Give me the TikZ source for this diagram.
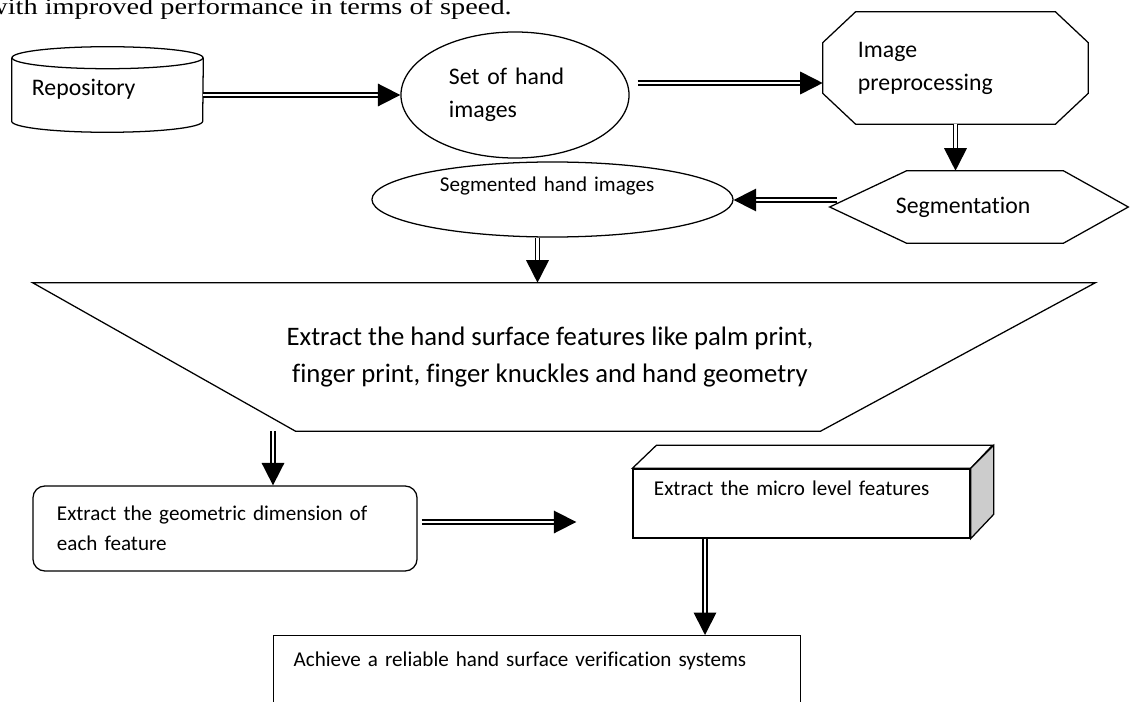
\documentclass[tikz,border=0pt]{standalone}
\usepackage{fontspec}
\setmainfont{Carlito}[Ligatures=NoCommon]
\newfontfamily\serifbody{Liberation Serif}[FakeStretch=1.22]
\usetikzlibrary{shapes.geometric,arrows.meta,calc}

\newcommand{\px}{0.7113pt}

\tikzset{
    box/.style={draw, line width=0.9pt, inner sep=0pt},
    frame/.style={inner sep=0pt},
    outline/.style={line width=0.9pt},
    dbl/.style={double, double distance=1.7pt, line width=1.25pt,
        -{Triangle[length=16pt,width=16pt]}},
    bigtext/.style={font=\fontsize{16.9}{23.5}\selectfont},
    smalltext/.style={font=\fontsize{15}{21.3}\selectfont},
}

\begin{document}
\begin{tikzpicture}[x=0.025cm, y=0.025cm]
    \useasboundingbox (0,0) rectangle (1131,-702);

    % line of the page above the chart
    \node[anchor=base east, inner sep=0pt, font=\serifbody\fontsize{16.5}{20}\selectfont] (intro) at (512,-15) {with improved performance in terms of speed.};

    % Repository (cylinder)
    \node[frame, bigtext, minimum width=191*\px, minimum height=85*\px, text width=151*\px, align=left] (repo) at (107.5,-89.5) {Repository};
    \draw[outline] ([yshift=-11*\px]repo.north west) -- ([yshift=11*\px]repo.south west)
        arc[start angle=180, end angle=360, x radius=95.5, y radius=11] -- ([yshift=-11*\px]repo.north east);
    \draw[outline] ([yshift=-11*\px]repo.north) ellipse [x radius=95.5, y radius=11];

    % top row
    \node[ellipse, box, bigtext, minimum width=228*\px, minimum height=126*\px, text width=132*\px, align=left] (sethand) at (515,-95) {Set of hand\\images};
    \node[frame, bigtext, minimum width=265*\px, minimum height=112*\px, text width=195*\px, align=left] (imgpre) at (955.5,-68) {Image\\preprocessing};
    \draw[outline] ([xshift=33*\px]imgpre.north west) -- ([xshift=-33*\px]imgpre.north east)
        -- ([yshift=-31*\px]imgpre.north east) -- ([yshift=31*\px]imgpre.south east)
        -- ([xshift=-33*\px]imgpre.south east) -- ([xshift=33*\px]imgpre.south west)
        -- ([yshift=31*\px]imgpre.south west) -- ([yshift=-31*\px]imgpre.north west) -- cycle;

    % second row
    \node[frame, bigtext, minimum width=298*\px, minimum height=72*\px, text width=166*\px, align=left] (seg) at (979,-207) {Segmentation};
    \draw[outline] (seg.west) -- ([xshift=77*\px]seg.north west) -- ([xshift=-65*\px]seg.north east)
        -- (seg.east) -- ([xshift=-65*\px]seg.south east) -- ([xshift=77*\px]seg.south west) -- cycle;
    \node[ellipse, box, smalltext, minimum width=361*\px, minimum height=75*\px, text width=225*\px, align=left, text height=14*\px, text depth=29*\px] (seghand) at (552.5,-199.5) {Segmented hand images};

    % feature extraction
    \node[frame, minimum width=1062*\px, minimum height=148*\px, align=center, font=\fontsize{19}{26.3}\selectfont] (trap) at (550,-357) {Extract the hand surface features like palm print,\\finger print, finger knuckles and hand geometry};
    \draw[outline] ([xshift=14*\px]trap.north west) -- ([xshift=14*\px]trap.north east)
        -- ([xshift=-261*\px]trap.south east) -- ([xshift=277*\px]trap.south west) -- cycle;

    % lower boxes
    \node[rectangle, rounded corners=8.5pt, box, smalltext, minimum width=384*\px, minimum height=85*\px, text width=336*\px, align=left] (georect) at (225,-528.5) {Extract the geometric dimension of\\each feature};
    \node[rectangle, box, smalltext, minimum width=337*\px, minimum height=69*\px, text width=295*\px, align=left, text height=15*\px, text depth=32*\px] (micro) at (801.5,-503.5) {Extract the micro level features};
    \draw[outline] (micro.north west) -- ++(24,23) -- ++(336,0) -- (micro.north east) -- cycle;
    \filldraw[outline, fill=gray!40] (micro.north east) -- ++(23,23) -- ++(0,-69) -- (micro.south east) -- cycle;
    \node[rectangle, box, smalltext, anchor=north west, minimum width=527*\px, minimum height=95*\px, text width=487*\px, align=left, text height=15*\px, text depth=48*\px] (goal) at (273,-635) {Achieve a reliable hand surface verification systems};

    % arrows
    \path (sethand.east) ++(8,12) coordinate (s2);
    \path (seg.west) ++(7,7) coordinate (s4);
    \path (seghand.south) ++(-15,0) coordinate (s5);
    \path (georect.north) ++(48,0) coordinate (g6);
    \path (georect.east) ++(4,6.5) coordinate (s7);
    \path (micro.west) ++(-56,0) coordinate (e7);
    \path (micro.south) ++(-96.5,0) coordinate (s8);

    \draw[dbl] (repo.east |- sethand.west) -- (sethand.west);
    \draw[dbl] (s2) -- (s2 -| imgpre.west);
    \draw[dbl] (imgpre.south) -- (imgpre.south |- seg.north);
    \draw[dbl] (s4) -- (s4 -| seghand.east);
    \draw[dbl] (s5) -- (s5 |- trap.north);
    \draw[dbl] (g6 |- trap.south) -- (g6);
    \draw[dbl] (s7) -- (s7 -| e7);
    \draw[dbl] (s8) -- (s8 |- goal.north);
\end{tikzpicture}
\end{document}
